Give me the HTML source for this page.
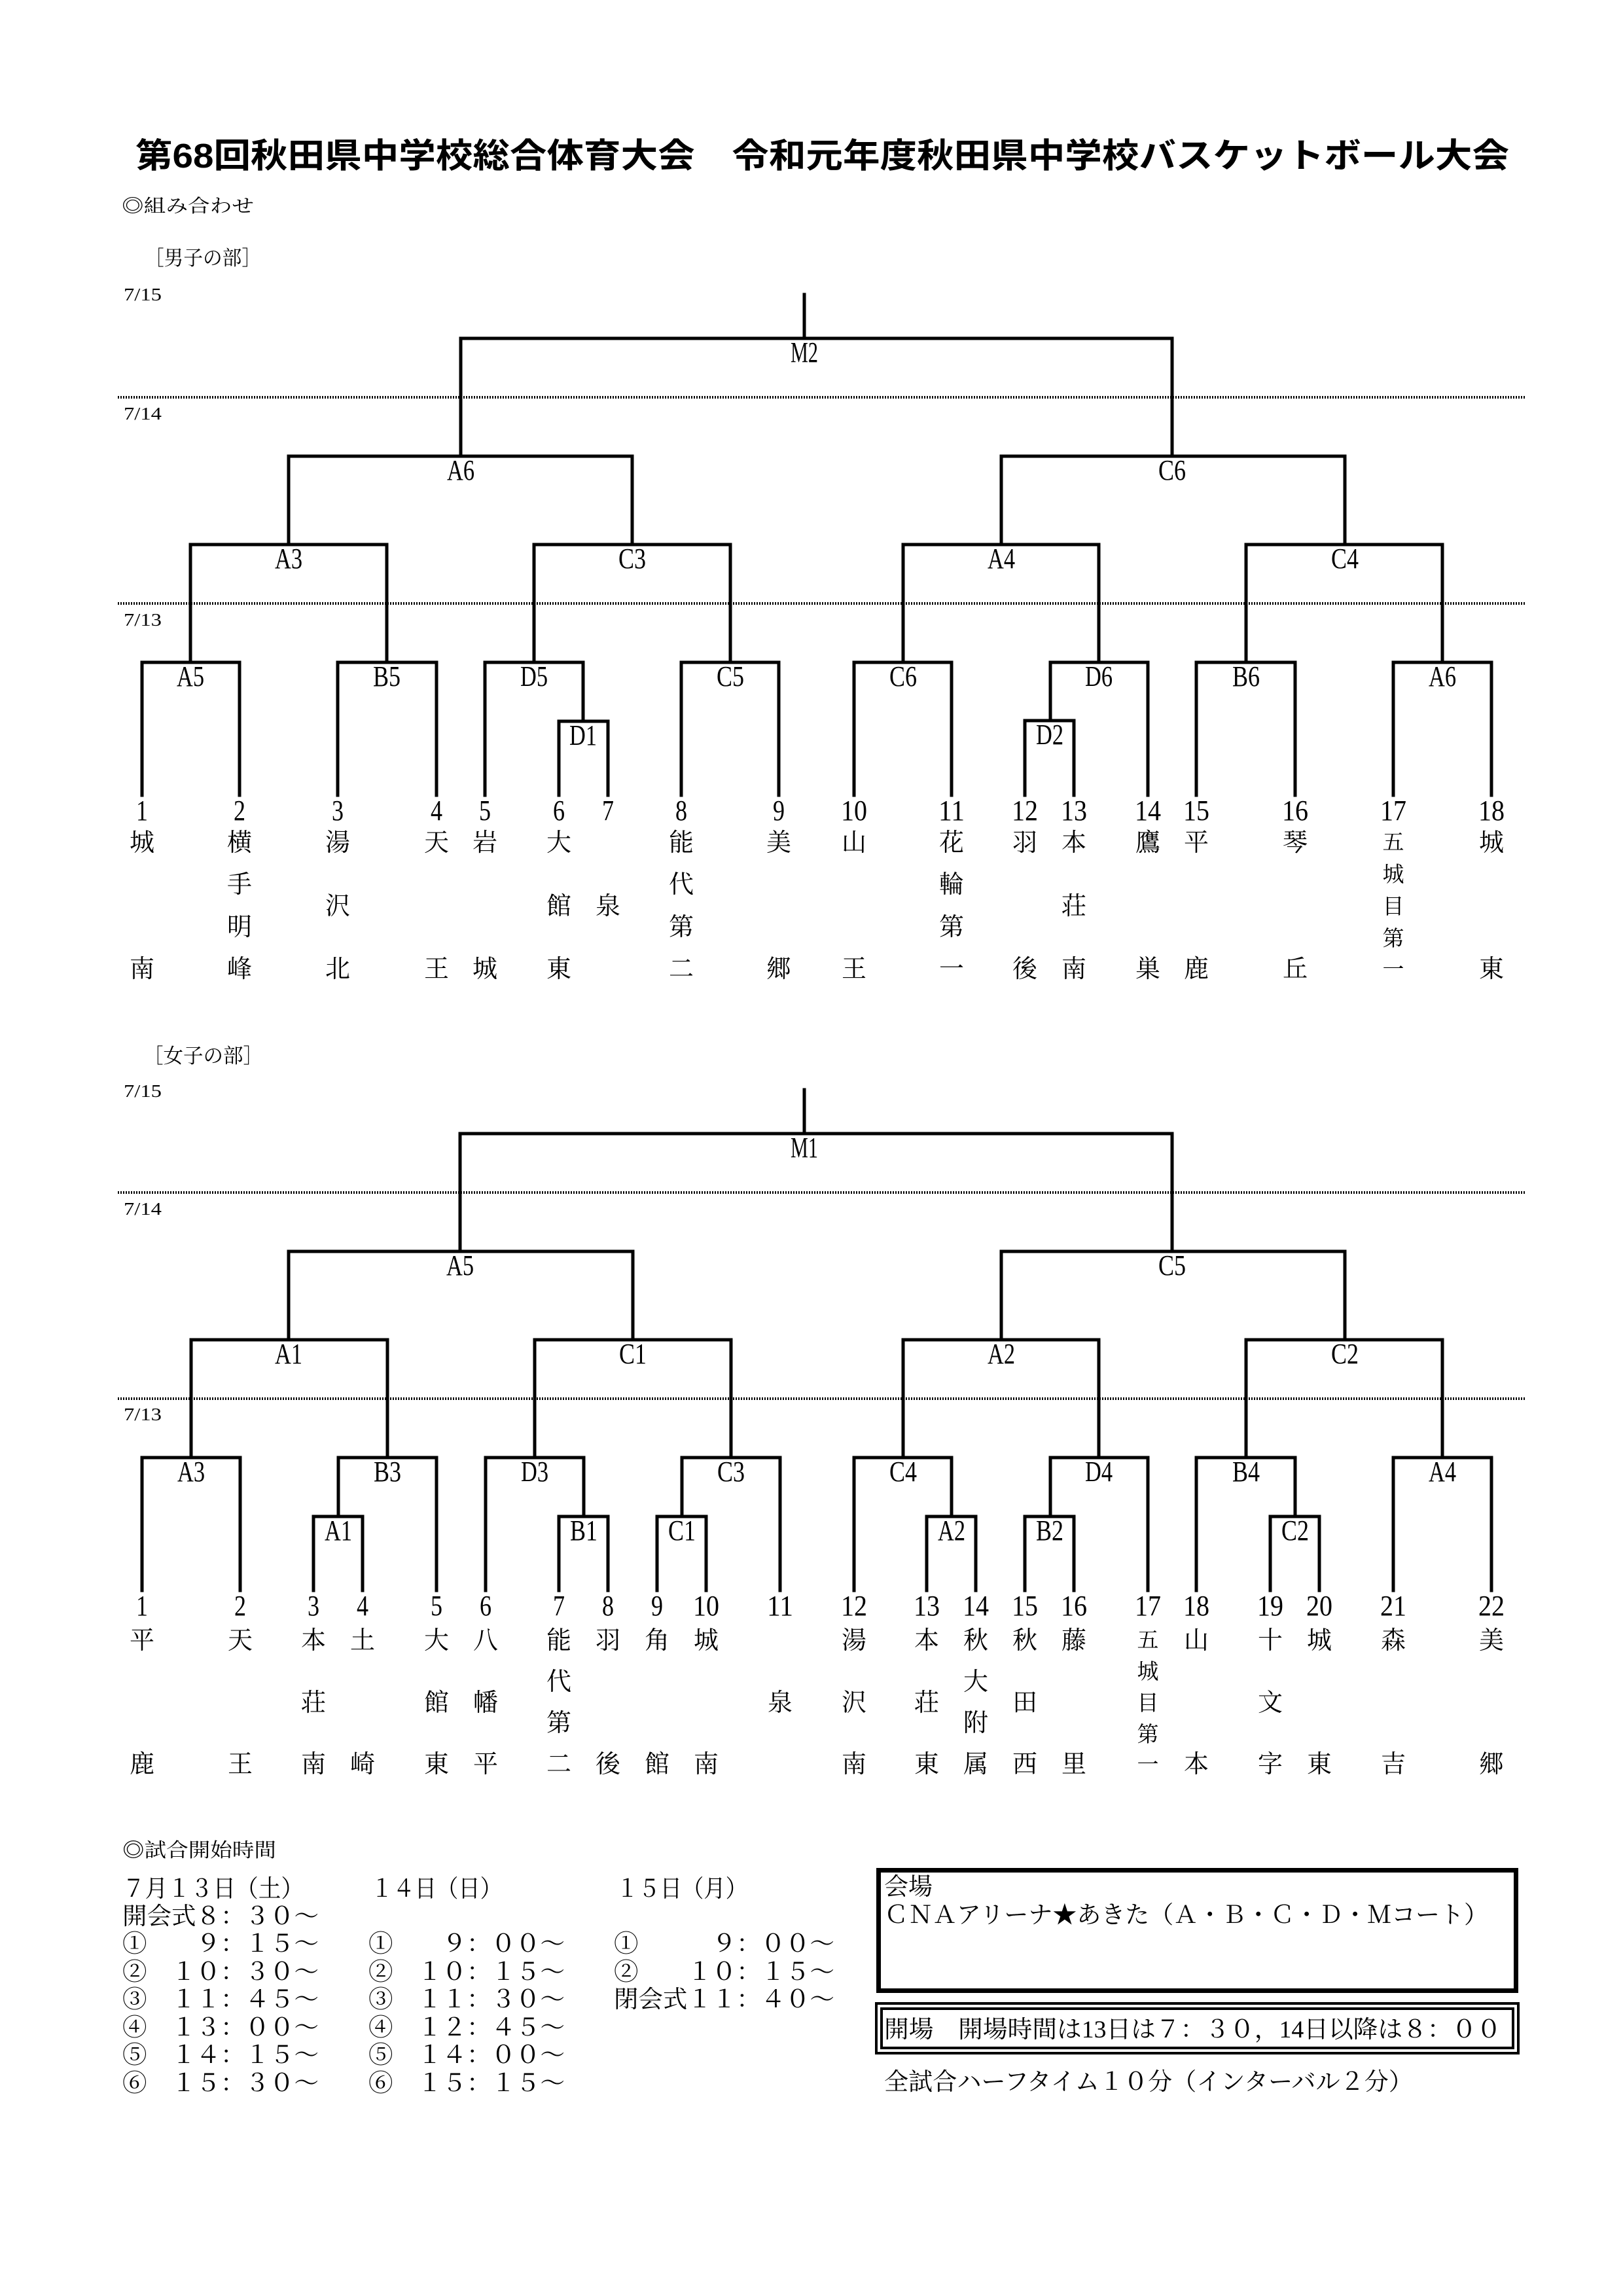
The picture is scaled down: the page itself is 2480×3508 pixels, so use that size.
<!DOCTYPE html>
<html><head><meta charset="utf-8"><style>
html,body{margin:0;padding:0;background:#fff;}
svg{display:block;}
.ln{fill:none;stroke:#000;stroke-width:5;stroke-linecap:square;}
.dt{stroke:#000;stroke-width:4;stroke-dasharray:2 2;}
.lb{font-family:"Liberation Serif",serif;font-size:44px;text-anchor:middle;}
.nm{font-family:"Liberation Serif",serif;font-size:44px;text-anchor:middle;}
.dd{font-family:"Liberation Serif",serif;font-size:27px;}
.cj{font-family:"Liberation Serif","Noto Serif CJK SC",serif;font-size:38px;text-anchor:middle;}
.c5{font-family:"Liberation Serif","Noto Serif CJK SC",serif;font-size:33px;text-anchor:middle;}
.tx{font-family:"Liberation Serif","Noto Serif CJK SC",serif;font-size:37px;}
</style></head><body>
<svg width="2480" height="3508" viewBox="0 0 2480 3508" xmlns="http://www.w3.org/2000/svg">
<rect width="2480" height="3508" fill="#fff"/>
<text x="207" y="256" font-family="Liberation Sans,'Noto Sans CJK JP',sans-serif" font-weight="bold" font-size="52" textLength="2099" lengthAdjust="spacingAndGlyphs">第68回秋田県中学校総合体育大会　令和元年度秋田県中学校バスケットボール大会</text>
<text x="186" y="324" class="tx" style="font-size:28px" textLength="202" lengthAdjust="spacingAndGlyphs">◎組み合わせ</text>
<text x="221" y="405" class="tx" style="font-size:31px" textLength="178" lengthAdjust="spacingAndGlyphs">［男子の部］</text>
<text x="219" y="1624" class="tx" style="font-size:31px" textLength="183" lengthAdjust="spacingAndGlyphs">［女子の部］</text>

<text x="189" y="459" class="dd" textLength="58" lengthAdjust="spacingAndGlyphs">7/15</text>
<text x="189" y="641" class="dd" textLength="58" lengthAdjust="spacingAndGlyphs">7/14</text>
<text x="189" y="956" class="dd" textLength="58" lengthAdjust="spacingAndGlyphs">7/13</text>
<text x="189" y="1676" class="dd" textLength="58" lengthAdjust="spacingAndGlyphs">7/15</text>
<text x="189" y="1856" class="dd" textLength="58" lengthAdjust="spacingAndGlyphs">7/14</text>
<text x="189" y="2170" class="dd" textLength="58" lengthAdjust="spacingAndGlyphs">7/13</text>

<line class="dt" x1="180" y1="607" x2="2330" y2="607"/>
<line class="dt" x1="180" y1="922" x2="2330" y2="922"/>
<line class="dt" x1="180" y1="1822" x2="2330" y2="1822"/>
<line class="dt" x1="180" y1="2137" x2="2330" y2="2137"/>

<!-- men -->
<path class="ln" d="M217 1215V1012H366V1215M516 1215V1012H667V1215M741 1215V1012H891V1102M854 1215V1102H929V1215M1041 1215V1012H1190V1215M1305 1215V1012H1454V1215M1605 1101V1012H1754V1215M1566 1215V1101H1641V1215M1828 1215V1012H1979V1215M2129 1215V1012H2279V1215"/>
<path class="ln" d="M291 1012V832H591V1012M816 1012V832H1116V1012M1380 1012V832H1679V1012M1904 1012V832H2204V1012M441 832V697H966V832M1530 832V697H2055V832M704 697V517H1791V697M1229 517V450"/>
<g class="lb">
<text x="1229" y="553" textLength="42" lengthAdjust="spacingAndGlyphs">M2</text>
<text x="704" y="733" textLength="42" lengthAdjust="spacingAndGlyphs">A6</text>
<text x="1791" y="733" textLength="42" lengthAdjust="spacingAndGlyphs">C6</text>
<text x="441" y="868" textLength="42" lengthAdjust="spacingAndGlyphs">A3</text>
<text x="966" y="868" textLength="42" lengthAdjust="spacingAndGlyphs">C3</text>
<text x="1530" y="868" textLength="42" lengthAdjust="spacingAndGlyphs">A4</text>
<text x="2055" y="868" textLength="42" lengthAdjust="spacingAndGlyphs">C4</text>
<text x="291" y="1048" textLength="42" lengthAdjust="spacingAndGlyphs">A5</text>
<text x="591" y="1048" textLength="42" lengthAdjust="spacingAndGlyphs">B5</text>
<text x="816" y="1048" textLength="42" lengthAdjust="spacingAndGlyphs">D5</text>
<text x="1116" y="1048" textLength="42" lengthAdjust="spacingAndGlyphs">C5</text>
<text x="1380" y="1048" textLength="42" lengthAdjust="spacingAndGlyphs">C6</text>
<text x="1679" y="1048" textLength="42" lengthAdjust="spacingAndGlyphs">D6</text>
<text x="1904" y="1048" textLength="42" lengthAdjust="spacingAndGlyphs">B6</text>
<text x="2204" y="1048" textLength="42" lengthAdjust="spacingAndGlyphs">A6</text>
<text x="891" y="1138" textLength="42" lengthAdjust="spacingAndGlyphs">D1</text>
<text x="1604" y="1137" textLength="42" lengthAdjust="spacingAndGlyphs">D2</text>
</g>
<g class="nm">
<text x="217" y="1253" textLength="18" lengthAdjust="spacingAndGlyphs">1</text>
<text x="366" y="1253" textLength="18" lengthAdjust="spacingAndGlyphs">2</text>
<text x="516" y="1253" textLength="18" lengthAdjust="spacingAndGlyphs">3</text>
<text x="667" y="1253" textLength="18" lengthAdjust="spacingAndGlyphs">4</text>
<text x="741" y="1253" textLength="18" lengthAdjust="spacingAndGlyphs">5</text>
<text x="854" y="1253" textLength="18" lengthAdjust="spacingAndGlyphs">6</text>
<text x="929" y="1253" textLength="18" lengthAdjust="spacingAndGlyphs">7</text>
<text x="1041" y="1253" textLength="18" lengthAdjust="spacingAndGlyphs">8</text>
<text x="1190" y="1253" textLength="18" lengthAdjust="spacingAndGlyphs">9</text>
<text x="1305" y="1253" textLength="40" lengthAdjust="spacingAndGlyphs">10</text>
<text x="1454" y="1253" textLength="40" lengthAdjust="spacingAndGlyphs">11</text>
<text x="1566" y="1253" textLength="40" lengthAdjust="spacingAndGlyphs">12</text>
<text x="1641" y="1253" textLength="40" lengthAdjust="spacingAndGlyphs">13</text>
<text x="1754" y="1253" textLength="40" lengthAdjust="spacingAndGlyphs">14</text>
<text x="1828" y="1253" textLength="40" lengthAdjust="spacingAndGlyphs">15</text>
<text x="1979" y="1253" textLength="40" lengthAdjust="spacingAndGlyphs">16</text>
<text x="2129" y="1253" textLength="40" lengthAdjust="spacingAndGlyphs">17</text>
<text x="2279" y="1253" textLength="40" lengthAdjust="spacingAndGlyphs">18</text>
</g>
<g class="cj">
<text x="217" y="1300">城</text><text x="217" y="1493">南</text>
<text x="366" y="1300">横</text><text x="366" y="1364">手</text><text x="366" y="1429">明</text><text x="366" y="1493">峰</text>
<text x="516" y="1300">湯</text><text x="516" y="1397">沢</text><text x="516" y="1493">北</text>
<text x="667" y="1300">天</text><text x="667" y="1493">王</text>
<text x="741" y="1300">岩</text><text x="741" y="1493">城</text>
<text x="854" y="1300">大</text><text x="854" y="1397">館</text><text x="854" y="1493">東</text>
<text x="929" y="1397">泉</text>
<text x="1041" y="1300">能</text><text x="1041" y="1364">代</text><text x="1041" y="1429">第</text><text x="1041" y="1493">二</text>
<text x="1190" y="1300">美</text><text x="1190" y="1493">郷</text>
<text x="1305" y="1300">山</text><text x="1305" y="1493">王</text>
<text x="1454" y="1300">花</text><text x="1454" y="1364">輪</text><text x="1454" y="1429">第</text><text x="1454" y="1493">一</text>
<text x="1566" y="1300">羽</text><text x="1566" y="1493">後</text>
<text x="1641" y="1300">本</text><text x="1641" y="1397">荘</text><text x="1641" y="1493">南</text>
<text x="1754" y="1300">鷹</text><text x="1754" y="1493">巣</text>
<text x="1828" y="1300">平</text><text x="1828" y="1493">鹿</text>
<text x="1979" y="1300">琴</text><text x="1979" y="1493">丘</text>
<text x="2279" y="1300">城</text><text x="2279" y="1493">東</text>
</g>
<g class="c5">
<text x="2129" y="1298">五</text><text x="2129" y="1347">城</text><text x="2129" y="1396">目</text><text x="2129" y="1445">第</text><text x="2129" y="1492">一</text>
</g>

<!-- women -->
<path class="ln" d="M217 2430V2227H367V2430M479 2430V2317H554V2430M517 2317V2227H667V2430M742 2430V2227H892V2317M854 2430V2317H929V2430M1004 2430V2317H1079V2430M1042 2317V2227H1192V2430M1305 2430V2227H1454V2317M1416 2430V2317H1491V2430M1566 2430V2317H1641V2430M1605 2317V2227H1754V2430M1828 2430V2227H1979V2317M1941 2430V2317H2016V2430M2129 2430V2227H2279V2430"/>
<path class="ln" d="M292 2227V2047H592V2227M817 2227V2047H1117V2227M1380 2227V2047H1679V2227M1904 2227V2047H2204V2227M441 2047V1912H967V2047M1530 2047V1912H2055V2047M703 1912V1732H1791V1912M1229 1732V1665"/>
<g class="lb">
<text x="1229" y="1768" textLength="42" lengthAdjust="spacingAndGlyphs">M1</text>
<text x="703" y="1948" textLength="42" lengthAdjust="spacingAndGlyphs">A5</text>
<text x="1791" y="1948" textLength="42" lengthAdjust="spacingAndGlyphs">C5</text>
<text x="441" y="2083" textLength="42" lengthAdjust="spacingAndGlyphs">A1</text>
<text x="967" y="2083" textLength="42" lengthAdjust="spacingAndGlyphs">C1</text>
<text x="1530" y="2083" textLength="42" lengthAdjust="spacingAndGlyphs">A2</text>
<text x="2055" y="2083" textLength="42" lengthAdjust="spacingAndGlyphs">C2</text>
<text x="292" y="2263" textLength="42" lengthAdjust="spacingAndGlyphs">A3</text>
<text x="592" y="2263" textLength="42" lengthAdjust="spacingAndGlyphs">B3</text>
<text x="817" y="2263" textLength="42" lengthAdjust="spacingAndGlyphs">D3</text>
<text x="1117" y="2263" textLength="42" lengthAdjust="spacingAndGlyphs">C3</text>
<text x="1380" y="2263" textLength="42" lengthAdjust="spacingAndGlyphs">C4</text>
<text x="1679" y="2263" textLength="42" lengthAdjust="spacingAndGlyphs">D4</text>
<text x="1904" y="2263" textLength="42" lengthAdjust="spacingAndGlyphs">B4</text>
<text x="2204" y="2263" textLength="42" lengthAdjust="spacingAndGlyphs">A4</text>
<text x="517" y="2353" textLength="42" lengthAdjust="spacingAndGlyphs">A1</text>
<text x="892" y="2353" textLength="42" lengthAdjust="spacingAndGlyphs">B1</text>
<text x="1042" y="2353" textLength="42" lengthAdjust="spacingAndGlyphs">C1</text>
<text x="1454" y="2353" textLength="42" lengthAdjust="spacingAndGlyphs">A2</text>
<text x="1604" y="2353" textLength="42" lengthAdjust="spacingAndGlyphs">B2</text>
<text x="1979" y="2353" textLength="42" lengthAdjust="spacingAndGlyphs">C2</text>
</g>
<g class="nm">
<text x="217" y="2468" textLength="18" lengthAdjust="spacingAndGlyphs">1</text>
<text x="367" y="2468" textLength="18" lengthAdjust="spacingAndGlyphs">2</text>
<text x="479" y="2468" textLength="18" lengthAdjust="spacingAndGlyphs">3</text>
<text x="554" y="2468" textLength="18" lengthAdjust="spacingAndGlyphs">4</text>
<text x="667" y="2468" textLength="18" lengthAdjust="spacingAndGlyphs">5</text>
<text x="742" y="2468" textLength="18" lengthAdjust="spacingAndGlyphs">6</text>
<text x="854" y="2468" textLength="18" lengthAdjust="spacingAndGlyphs">7</text>
<text x="929" y="2468" textLength="18" lengthAdjust="spacingAndGlyphs">8</text>
<text x="1004" y="2468" textLength="18" lengthAdjust="spacingAndGlyphs">9</text>
<text x="1079" y="2468" textLength="40" lengthAdjust="spacingAndGlyphs">10</text>
<text x="1192" y="2468" textLength="40" lengthAdjust="spacingAndGlyphs">11</text>
<text x="1305" y="2468" textLength="40" lengthAdjust="spacingAndGlyphs">12</text>
<text x="1416" y="2468" textLength="40" lengthAdjust="spacingAndGlyphs">13</text>
<text x="1491" y="2468" textLength="40" lengthAdjust="spacingAndGlyphs">14</text>
<text x="1566" y="2468" textLength="40" lengthAdjust="spacingAndGlyphs">15</text>
<text x="1641" y="2468" textLength="40" lengthAdjust="spacingAndGlyphs">16</text>
<text x="1754" y="2468" textLength="40" lengthAdjust="spacingAndGlyphs">17</text>
<text x="1828" y="2468" textLength="40" lengthAdjust="spacingAndGlyphs">18</text>
<text x="1941" y="2468" textLength="40" lengthAdjust="spacingAndGlyphs">19</text>
<text x="2016" y="2468" textLength="40" lengthAdjust="spacingAndGlyphs">20</text>
<text x="2129" y="2468" textLength="40" lengthAdjust="spacingAndGlyphs">21</text>
<text x="2279" y="2468" textLength="40" lengthAdjust="spacingAndGlyphs">22</text>
</g>
<g class="cj">
<text x="217" y="2519">平</text><text x="217" y="2708">鹿</text>
<text x="367" y="2519">天</text><text x="367" y="2708">王</text>
<text x="479" y="2519">本</text><text x="479" y="2614">荘</text><text x="479" y="2708">南</text>
<text x="554" y="2519">土</text><text x="554" y="2708">崎</text>
<text x="667" y="2519">大</text><text x="667" y="2614">館</text><text x="667" y="2708">東</text>
<text x="742" y="2519">八</text><text x="742" y="2614">幡</text><text x="742" y="2708">平</text>
<text x="854" y="2519">能</text><text x="854" y="2582">代</text><text x="854" y="2645">第</text><text x="854" y="2708">二</text>
<text x="929" y="2519">羽</text><text x="929" y="2708">後</text>
<text x="1004" y="2519">角</text><text x="1004" y="2708">館</text>
<text x="1079" y="2519">城</text><text x="1079" y="2708">南</text>
<text x="1192" y="2614">泉</text>
<text x="1305" y="2519">湯</text><text x="1305" y="2614">沢</text><text x="1305" y="2708">南</text>
<text x="1416" y="2519">本</text><text x="1416" y="2614">荘</text><text x="1416" y="2708">東</text>
<text x="1491" y="2519">秋</text><text x="1491" y="2582">大</text><text x="1491" y="2645">附</text><text x="1491" y="2708">属</text>
<text x="1566" y="2519">秋</text><text x="1566" y="2614">田</text><text x="1566" y="2708">西</text>
<text x="1641" y="2519">藤</text><text x="1641" y="2708">里</text>
<text x="1828" y="2519">山</text><text x="1828" y="2708">本</text>
<text x="1941" y="2519">十</text><text x="1941" y="2614">文</text><text x="1941" y="2708">字</text>
<text x="2016" y="2519">城</text><text x="2016" y="2708">東</text>
<text x="2129" y="2519">森</text><text x="2129" y="2708">吉</text>
<text x="2279" y="2519">美</text><text x="2279" y="2708">郷</text>
</g>
<g class="c5">
<text x="1754" y="2517">五</text><text x="1754" y="2565">城</text><text x="1754" y="2613">目</text><text x="1754" y="2661">第</text><text x="1754" y="2707">一</text>
</g>

<g transform="translate(0,-13)">
<text x="187" y="2850" class="tx" style="font-size:30px" textLength="235" lengthAdjust="spacingAndGlyphs">◎試合開始時間</text>
<g class="tx">
<text x="187" y="2911" textLength="277" lengthAdjust="spacingAndGlyphs">７月１３日（土）</text>
<text x="187" y="2953" textLength="300" lengthAdjust="spacingAndGlyphs">開会式８：３０～</text>
<text x="187" y="2995" textLength="300" lengthAdjust="spacingAndGlyphs">①　　９：１５～</text>
<text x="187" y="3038" textLength="300" lengthAdjust="spacingAndGlyphs">②　１０：３０～</text>
<text x="187" y="3080" textLength="300" lengthAdjust="spacingAndGlyphs">③　１１：４５～</text>
<text x="187" y="3123" textLength="300" lengthAdjust="spacingAndGlyphs">④　１３：００～</text>
<text x="187" y="3165" textLength="300" lengthAdjust="spacingAndGlyphs">⑤　１４：１５～</text>
<text x="187" y="3208" textLength="300" lengthAdjust="spacingAndGlyphs">⑥　１５：３０～</text>
<text x="567" y="2911" textLength="200" lengthAdjust="spacingAndGlyphs">１４日（日）</text>
<text x="563" y="2995" textLength="300" lengthAdjust="spacingAndGlyphs">①　　９：００～</text>
<text x="563" y="3038" textLength="300" lengthAdjust="spacingAndGlyphs">②　１０：１５～</text>
<text x="563" y="3080" textLength="300" lengthAdjust="spacingAndGlyphs">③　１１：３０～</text>
<text x="563" y="3123" textLength="300" lengthAdjust="spacingAndGlyphs">④　１２：４５～</text>
<text x="563" y="3165" textLength="300" lengthAdjust="spacingAndGlyphs">⑤　１４：００～</text>
<text x="563" y="3208" textLength="300" lengthAdjust="spacingAndGlyphs">⑥　１５：１５～</text>
<text x="942" y="2911" textLength="200" lengthAdjust="spacingAndGlyphs">１５日（月）</text>
<text x="938" y="2995" textLength="337" lengthAdjust="spacingAndGlyphs">①　　　９：００～</text>
<text x="938" y="3038" textLength="337" lengthAdjust="spacingAndGlyphs">②　　１０：１５～</text>
<text x="938" y="3080" textLength="337" lengthAdjust="spacingAndGlyphs">閉会式１１：４０～</text>
</g>

<rect x="1342.5" y="2870.5" width="974" height="184" fill="none" stroke="#000" stroke-width="7"/>
<rect x="1339" y="3074" width="981" height="76" fill="none" stroke="#000" stroke-width="4"/>
<rect x="1347" y="3082" width="965" height="60" fill="none" stroke="#000" stroke-width="4"/>
<g class="tx">
<text x="1351" y="2908" textLength="74" lengthAdjust="spacingAndGlyphs">会場</text>
<text x="1351" y="2951" textLength="923" lengthAdjust="spacingAndGlyphs">ＣＮＡアリーナ★あきた（Ａ・Ｂ・Ｃ・Ｄ・Ｍコート）</text>
<text x="1351" y="3126" textLength="943" lengthAdjust="spacingAndGlyphs">開場　開場時間は13日は７：３０，14日以降は８：００</text>
<text x="1351" y="3206" textLength="808" lengthAdjust="spacingAndGlyphs">全試合ハーフタイム１０分（インターバル２分）</text>
</g>
</g>
</svg>
</body></html>
